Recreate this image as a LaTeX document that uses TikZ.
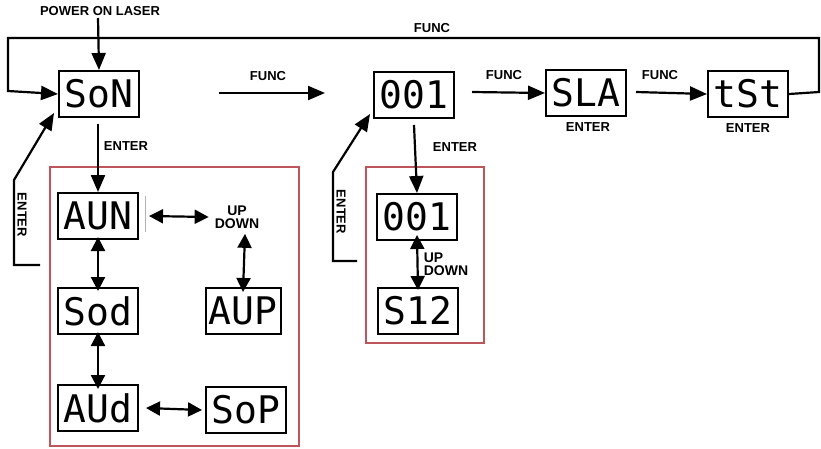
\documentclass[tikz,border=0pt]{standalone}
\usepackage{fontspec}
\setmainfont{Liberation Sans}
\newfontfamily\segfont{DejaVu Sans Mono}
\usetikzlibrary{arrows.meta}
\definecolor{boxred}{RGB}{190,85,90}
\tikzset{
  disp/.style={draw=black, line width=2pt, minimum width=80pt, minimum height=46pt, inner sep=0pt, font=\segfont\fontsize{38}{38}\selectfont},
  lbl/.style={font=\bfseries\fontsize{13}{14}\selectfont, inner sep=0pt},
  udlbl/.style={font=\bfseries\fontsize{14}{15}\selectfont, inner sep=0pt},
  conn/.style={line width=2.2pt, -{Triangle[length=17pt,width=14pt]}},
  dconn/.style={line width=2.2pt, {Triangle[length=14pt,width=14pt]}-{Triangle[length=14pt,width=14pt]}},
  grp/.style={draw=boxred, line width=1.5pt}
}
\begin{document}
\begin{tikzpicture}[x=1pt,y=-1pt]
\useasboundingbox (0,0) rectangle (821,448);
% groups
\draw[grp] (50,167) rectangle (299,446);
\draw[grp] (366,167) rectangle (484,343);
% displays
\node[disp] (son) at (99,94) {SoN};
\node[disp] (n001) at (414,95) {001};
\node[disp] (sla) at (586,93) {SLA};
\node[disp] (tst) at (748,94) {tSt};
\node[disp] (aun) at (98,216) {AUN};
\node[disp] (sod) at (98,311) {Sod};
\node[disp, minimum width=75pt] (aup) at (243,311) {AUP};
\node[disp] (aud) at (98,408) {AUd};
\node[disp] (sop) at (246,410) {SoP};
\node[disp] (m001) at (417,217) {001};
\node[disp] (s12) at (418,311) {S12};
% labels
\node[lbl] (power) at (100,11) {POWER ON LASER};
\node[lbl] (functop) at (432,28) {FUNC};
\node[lbl] (func1) at (268,76) {FUNC};
\node[lbl] (func2) at (504,75) {FUNC};
\node[lbl] (func3) at (660,75) {FUNC};
\node[lbl] (ent1) at (126,146) {ENTER};
\node[lbl] (ent2) at (455,147) {ENTER};
\node[lbl] (ent3) at (588,127) {ENTER};
\node[lbl] (ent4) at (748,128) {ENTER};
\node[lbl, rotate=-90] (ent5) at (22,215) {ENTER};
\node[lbl, rotate=-90] (ent6) at (341,212) {ENTER};
\node[udlbl, align=center] (ud1) at (237,217) {UP\\[-1.5pt]DOWN};
\node[udlbl, align=left] (ud2) at (446,264) {UP\\[-1.5pt]DOWN};
% coordinates
\coordinate (top0) at (98,18);
\coordinate (lpA) at (8,38);
\coordinate (lpB) at (8,91);
\coordinate (rpA) at (819,38);
\coordinate (rpB) at (819,92);
\coordinate (e5a) at (40,265);
\coordinate (e5b) at (14,265);
\coordinate (e5c) at (14,180);
\coordinate (e6a) at (357,261);
\coordinate (e6b) at (333,261);
\coordinate (e6c) at (333,172);
% connectors
\draw[conn] (top0) -- (son.north);
\draw[conn] (tst.east) -- (rpB) -- (rpA) -- (lpA) -- (lpB) -- (son.west);
\draw[conn] (219,93) -- (325,93);
\draw[conn] (n001.east) ++(17,-3) -- (sla.west);
\draw[conn] (sla.east) ++(9,-1) -- (tst.west);
\draw[conn] (son.south) ++(-1,6) -- (aun.north);
\draw[conn] (n001.south) ++(0,6) -- (m001.north);
\draw[conn] (e5a) -- (e5b) -- (e5c) -- ([xshift=-4pt,yshift=5pt]son.south west);
\draw[conn] (e6a) -- (e6b) -- (e6c) -- ([xshift=-3pt,yshift=5pt]n001.south west);
\draw[dconn] ([yshift=3pt]aun.south) -- ([yshift=-4pt]sod.north);
\draw[dconn] ([yshift=3pt]sod.south) -- ([yshift=-5pt]aud.north);
\draw[dconn] ([xshift=10pt]aun.east) -- ([xshift=-6pt]ud1.west);
\draw[dconn] (ud1.south) ++(8,5) -- ([yshift=-5pt]aup.north);
\draw[dconn] ([xshift=7pt]aud.east) -- ([xshift=-3pt]sop.west);
\draw[dconn] ([yshift=6pt]m001.south) -- ([yshift=-3pt]s12.north);
\draw[gray!60, line width=0.8pt] (145,196) -- (145,232);
\end{tikzpicture}
\end{document}
